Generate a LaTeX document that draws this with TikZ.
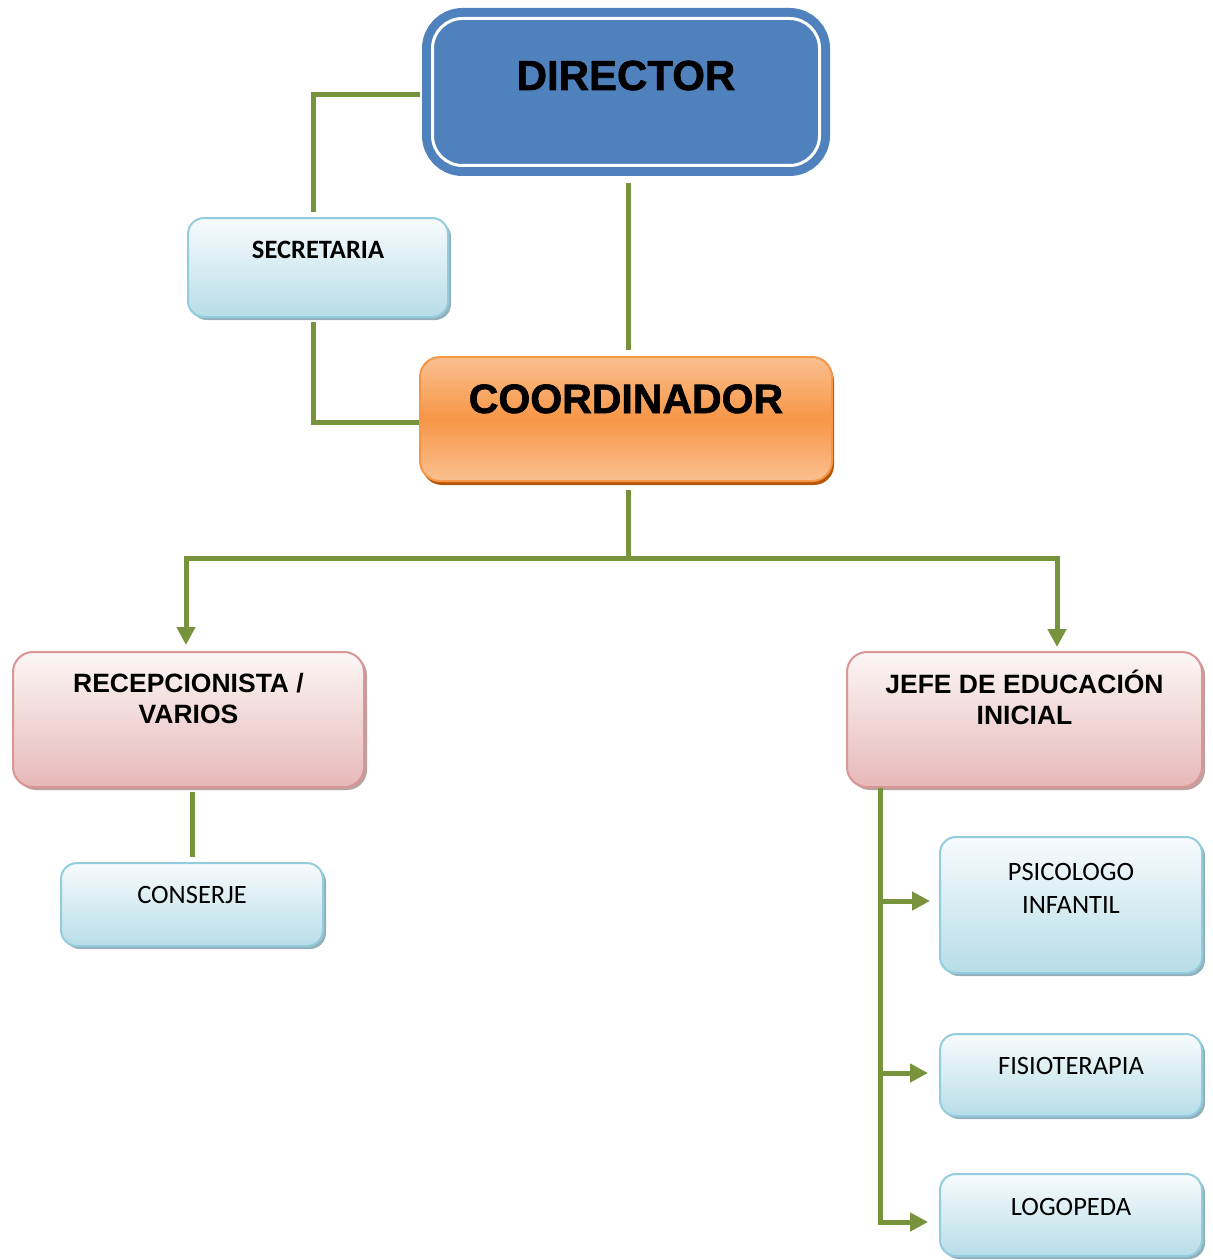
\documentclass[tikz,border=0pt]{standalone}
\usepackage{fontspec}
\setmainfont{Carlito}
\newfontfamily\arialfont{Liberation Sans}
\newfontfamily\blackfont[FakeBold=1.5]{Liberation Sans Bold}
\usetikzlibrary{arrows.meta,positioning,shadows}

\definecolor{linkgreen}{HTML}{77933C}
\definecolor{dirblue}{HTML}{4F81BD}
\definecolor{blueedge}{HTML}{93CDDD}
\definecolor{bluetop}{HTML}{F7FBFD}
\definecolor{bluebot}{HTML}{B7DDE8}
\definecolor{blueshadow}{HTML}{93B1BC}
\definecolor{pinkedge}{HTML}{D99694}
\definecolor{pinktop}{HTML}{FCF6F6}
\definecolor{pinkbot}{HTML}{E6B9B8}
\definecolor{pinkshadow}{HTML}{B9A2A1}
\definecolor{orangeedge}{HTML}{F79646}
\definecolor{orangelight}{HTML}{FAC090}
\definecolor{orangeshadow}{HTML}{B65708}

\tikzset{
  >={Triangle[length=18pt,width=18pt]},
  box/.style={line width=2pt, inner sep=0pt, rounded corners=16pt},
  smalltext/.style={font=\fontsize{26.5}{33}\selectfont},
  bluebox/.style={box, smalltext, draw=blueedge, top color=bluetop, bottom color=bluebot,
    drop shadow={shadow xshift=3pt, shadow yshift=-3pt, fill=blueshadow, opacity=1}},
  pinkbox/.style={box, rounded corners=20pt, draw=pinkedge, top color=pinktop, bottom color=pinkbot,
    font=\arialfont\bfseries\fontsize{26.5}{31}\selectfont,
    drop shadow={shadow xshift=3pt, shadow yshift=-3pt, fill=pinkshadow, opacity=1}},
  coordbox/.style={box, rounded corners=20pt, draw=orangeedge, top color=orangelight,
    bottom color=orangelight, middle color=orangeedge, font=\blackfont\fontsize{41}{48}\selectfont,
    drop shadow={shadow xshift=2pt, shadow yshift=-4pt, fill=orangeshadow, opacity=1}},
  directorbox/.style={inner sep=0pt, rounded corners=30pt, fill=dirblue, draw=dirblue,
    double=white, double distance=3pt, line width=9pt, font=\blackfont\fontsize{42}{48}\selectfont},
  link/.style={draw=linkgreen, line width=5pt}
}

\begin{document}
\begin{tikzpicture}[x=1pt, y=-1pt]
  \useasboundingbox (0,0) rectangle (1212,1260);

  % upper part
  \node[directorbox, minimum width=387pt, text height=71.5pt, text depth=75.5pt] (director) at (626,92) {DIRECTOR};
  \node[bluebox, minimum width=260pt, text height=40pt, text depth=59pt] (secretaria) at (318,267.5) {\bfseries SECRETARIA};
  \node[coordbox, minimum width=412pt, text height=56pt, text depth=68pt] (coord) at (626,419) {COORDINADOR};

  % middle part
  \node[pinkbox, minimum width=351pt, text height=40pt, text depth=95pt] (recep) at (188.5,719.5)
    {\begin{tabular}[t]{@{}c@{}}RECEPCIONISTA /\\VARIOS\end{tabular}};
  \node[pinkbox, minimum width=355pt, text height=41pt, text depth=94pt] (jefe) at (1024.5,719.5)
    {\begin{tabular}[t]{@{}c@{}}JEFE DE EDUCACIÓN\\INICIAL\end{tabular}};
  \node[bluebox, minimum width=262pt, text height=40pt, text depth=43pt] (conserje) at (192,904.5) {CONSERJE};

  % right column
  \node[bluebox, minimum width=262pt, text height=43pt, text depth=93pt] (psico) at (1071,905)
    {\begin{tabular}[t]{@{}c@{}}PSICOLOGO\\INFANTIL\end{tabular}};
  \node[bluebox, minimum width=262pt, text height=40pt, text depth=42pt] (fisio) [below=59pt of psico] {FISIOTERAPIA};
  \node[bluebox, minimum width=262pt, text height=41pt, text depth=41pt] (logo) [below=56pt of fisio] {LOGOPEDA};

  % connectors
  \draw[link] ([xshift=-8pt,yshift=-3pt]director.west) -| ([xshift=-5pt,yshift=5pt]secretaria.north);
  \draw[link] ([xshift=-5pt,yshift=-4pt]secretaria.south) |- ([yshift=-3pt]coord.west);
  \draw[link, shorten <=13pt, shorten >=6pt] ([xshift=2pt]director.south) -- ([xshift=2pt]coord.north);

  \coordinate (split) at ([xshift=2pt,yshift=-76pt]coord.south);
  \draw[link, shorten <=8pt] ([xshift=2pt]coord.south) -- (split);
  \draw[link, ->, shorten >=6pt] (split) -| ([xshift=-2.5pt]recep.north);
  \draw[link, ->, shorten >=4pt] (split) -| ([xshift=32.5pt]jefe.north);

  \draw[link, shorten <=4pt, shorten >=5pt] (recep.south -| conserje.north) -- (conserje.north);

  \coordinate (trunk) at ([xshift=34pt]jefe.south west);
  \draw[link, ->, shorten >=11pt] (trunk) |- ([yshift=-7pt]logo.west);
  \draw[link, ->, shorten >=9pt] ([yshift=4pt]psico.west -| trunk) -- ([yshift=4pt]psico.west);
  \draw[link, ->, shorten >=11pt] ([yshift=2pt]fisio.west -| trunk) -- ([yshift=2pt]fisio.west);
\end{tikzpicture}
\end{document}
